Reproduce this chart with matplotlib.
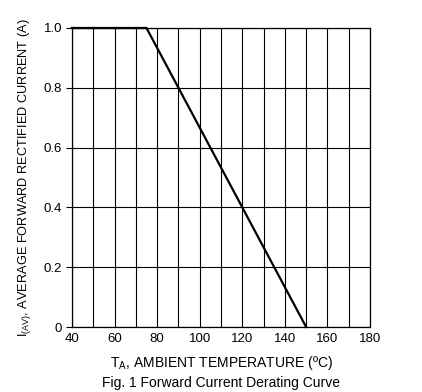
import matplotlib
matplotlib.use("Agg")
import matplotlib.pyplot as plt

temp = [40, 75, 150]
current = [1.0, 1.0, 0.0]

xticks = [40, 60, 80, 100, 120, 140, 160, 180]
yticks = [0, 0.2, 0.4, 0.6, 0.8, 1.0]
ylabels = ['0', '0.2', '0.4', '0.6', '0.8', '1.0']

plt.rcParams['font.family'] = ['Liberation Sans', 'DejaVu Sans']
plt.rcParams['mathtext.default'] = 'regular'

fig = plt.figure(figsize=(4.22, 3.92), dpi=100)
ax = fig.add_axes([0.1706, 0.1658, 0.7062, 0.7628])

ax.plot(temp, current, color='black', lw=1.6, zorder=5, clip_on=False)

ax.set_xlim(40, 180)
ax.set_ylim(0, 1.0)
ax.set_xticks(range(40, 181, 10))
ax.set_xticklabels([str(t) if t in xticks else '' for t in range(40, 181, 10)], fontsize=9.5)
ax.set_yticks(yticks)
ax.set_yticklabels(ylabels, fontsize=9.5)
ax.grid(True, color='black', lw=0.8)
ax.tick_params(axis='x', length=0, pad=4)
ax.tick_params(axis='y', length=4, width=0.8, pad=3)
for s in ax.spines.values():
    s.set_linewidth(0.9)

ax.set_xlabel('T$_{A}$, AMBIENT TEMPERATURE (ºC)\nFig. 1 Forward Current Derating Curve',
              fontsize=10, labelpad=7, linespacing=1.3)
ax.set_ylabel('I$_{(AV)}$, AVERAGE FORWARD RECTIFIED CURRENT (A)', fontsize=9.2, labelpad=8)

fig.savefig('out.png', dpi=100)
